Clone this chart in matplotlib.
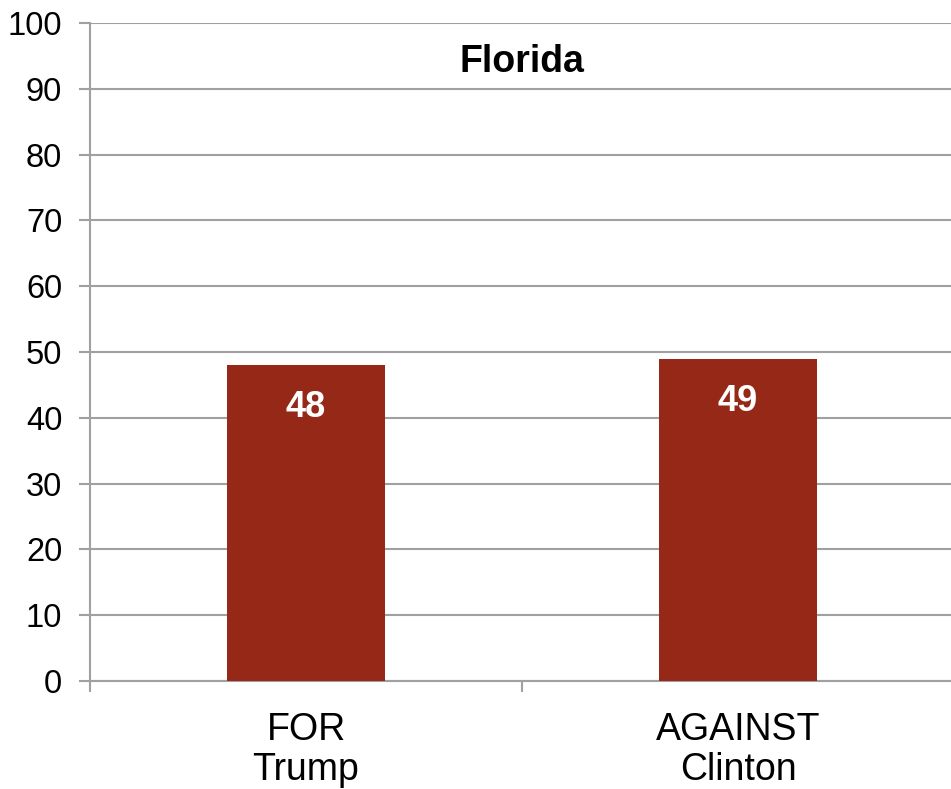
import matplotlib.pyplot as plt
import numpy as np

plt.rcParams['font.family'] = ['Liberation Sans', 'DejaVu Sans']

# data
categories = ['FOR\nTrump', 'AGAINST\nClinton']
values = [48, 49]
title = 'Florida'

bar_color = '#962817'
grid_color = '#a0a0a0'

fig = plt.figure(figsize=(9.51, 7.89), dpi=100)
ax = fig.add_axes([90 / 951, 108 / 789, 864 / 951, 658 / 789])

x = np.arange(len(categories))
bars = ax.bar(x, values, width=0.366, color=bar_color, zorder=3)

# value labels inside bars
for xi, v in zip(x, values):
    ax.text(xi, v - 6.5, str(v), ha='center', va='center', color='white',
            fontsize=26, fontweight='bold', zorder=4)

ax.set_xlim(-0.5, len(categories) - 0.5)
ax.set_ylim(0, 100)
ax.set_yticks(range(0, 101, 10))
ax.yaxis.grid(True, color=grid_color, linewidth=1.5, zorder=0)

ax.set_xticks(x)
ax.set_xticklabels(categories, fontsize=27, linespacing=1.15)
ax.tick_params(axis='x', which='major', length=0, pad=22)
ax.set_xticks(np.arange(-0.5, len(categories), 1.0), minor=True)
ax.tick_params(axis='x', which='minor', length=8, width=1.5, color=grid_color, direction='out')
ax.tick_params(axis='y', labelsize=23.5, length=8, width=1.5, color=grid_color, pad=12)

for s in ['top', 'right']:
    ax.spines[s].set_visible(False)
for s in ['left', 'bottom']:
    ax.spines[s].set_color(grid_color)
    ax.spines[s].set_linewidth(1.5)

ax.text(0.5, 0.94, title, transform=ax.transAxes, ha='center', va='center',
        fontsize=27, fontweight='bold')

fig.savefig('out.png', dpi=100)
